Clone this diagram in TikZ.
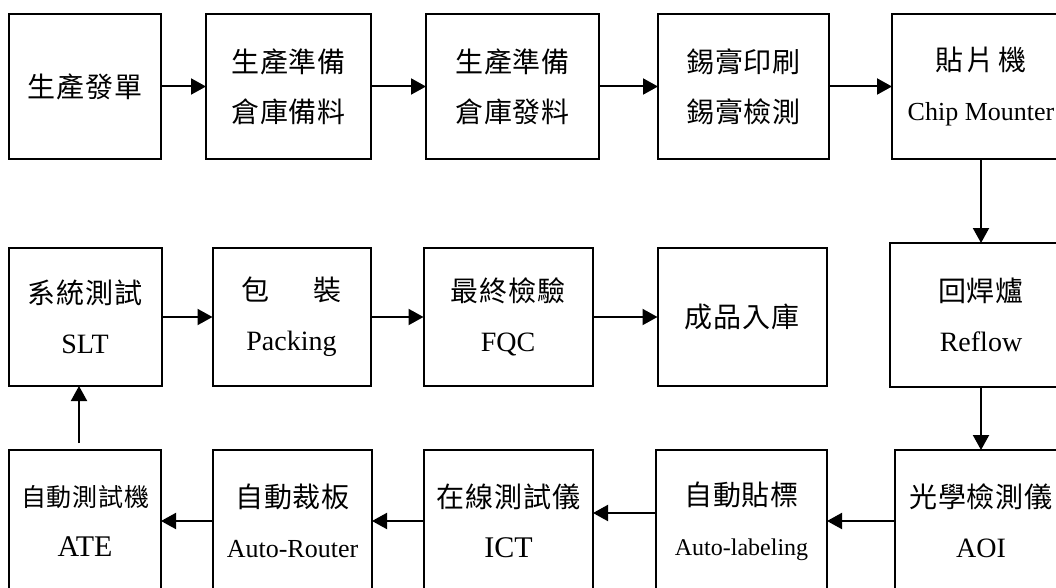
\documentclass[tikz,border=0pt]{standalone}
\usepackage{fontspec}
\setmainfont{Liberation Serif}
\newfontfamily\cjk[LetterSpace=3]{Noto Sans CJK TC}
\usetikzlibrary{arrows.meta,positioning}

\begin{document}
\begin{tikzpicture}[
  stage/.style={rectangle, draw=black, line width=2pt, minimum height=145pt,
    align=center, inner sep=0pt, outer sep=0pt, font=\fontsize{28}{50}\selectfont},
  arrow/.style={-{Triangle[length=15pt, width=16pt]}, line width=2pt},
]
\useasboundingbox (0,0) rectangle (1056pt,-588pt);

% top row: order to mounting
\node[stage, minimum width=152pt] (order) at (85pt,-86.5pt) {\cjk 生產發單};
\node[stage, minimum width=165pt, right=45pt of order] (prep) {{\cjk 生產準備}\\{\cjk 倉庫備料}};
\node[stage, minimum width=173pt, right=55pt of prep] (issue) {{\cjk 生產準備}\\{\cjk 倉庫發料}};
\node[stage, minimum width=171pt, right=59pt of issue] (paste) {{\cjk 錫膏印刷}\\{\cjk 錫膏檢測}};
\node[stage, minimum width=178pt, right=63pt of paste] (mounter) {{\cjk 貼\hspace{4pt}片\hspace{4pt}機}\\{\fontsize{26}{50}\selectfont Chip Mounter}};

\draw[arrow] (order) -- (prep);
\draw[arrow] (prep) -- (issue);
\draw[arrow] (issue) -- (paste);
\draw[arrow] (paste) -- (mounter);

% middle row: system test to stock
\node[stage, minimum width=153pt, minimum height=138pt, below=89pt of order] (slt) {{\cjk 系統測試}\\SLT};
\node[stage, minimum width=158pt, minimum height=138pt, right=51pt of slt] (pack) {{\cjk 包\hspace{1.6em}裝}\\Packing};
\node[stage, minimum width=169pt, minimum height=138pt, right=53pt of pack] (fqc) {{\cjk 最終檢驗}\\FQC};
\node[stage, minimum width=169pt, minimum height=138pt, right=65pt of fqc] (stock) {\cjk 成品入庫};
\node[stage, minimum width=182pt, minimum height=144pt, below=84pt of mounter] (reflow) {{\cjk 回焊爐}\\Reflow};

\draw[arrow] (slt) -- (pack);
\draw[arrow] (pack) -- (fqc);
\draw[arrow] (fqc) -- (stock);
\draw[arrow] (mounter) -- (reflow);

% bottom row: inspection and test, right to left
\node[stage, minimum width=152pt, minimum height=142pt, below=64pt of slt] (ate) {{\cjk\fontsize{25}{48}\selectfont 自動測試機}\\{\fontsize{30}{50}\selectfont ATE}};
\node[stage, minimum width=159pt, minimum height=142pt, right=52pt of ate] (router) {{\cjk 自動裁板}\\{\fontsize{26}{50}\selectfont Auto-Router}};
\node[stage, minimum width=169pt, minimum height=142pt, right=52pt of router] (ict) {{\cjk 在線測試儀}\\{\fontsize{30}{50}\selectfont ICT}};
\node[stage, minimum width=171pt, minimum height=142pt, right=63pt of ict] (label) {{\cjk 自動貼標}\\{\fontsize{24}{50}\selectfont Auto-labeling}};
\node[stage, minimum width=172pt, minimum height=142pt, right=68pt of label] (aoi) {{\cjk 光學檢測儀}\\AOI};

\draw[arrow] (reflow) -- (aoi);
\draw[arrow] (aoi) -- (label);
\draw[arrow] ([yshift=8pt]label.west) -- ([yshift=8pt]ict.east);
\draw[arrow] (ict) -- (router);
\draw[arrow] (router) -- (ate);
\draw[arrow] ([xshift=-6pt,yshift=7pt]ate.north) -- ([xshift=-6pt]slt.south);

\end{tikzpicture}
\end{document}
